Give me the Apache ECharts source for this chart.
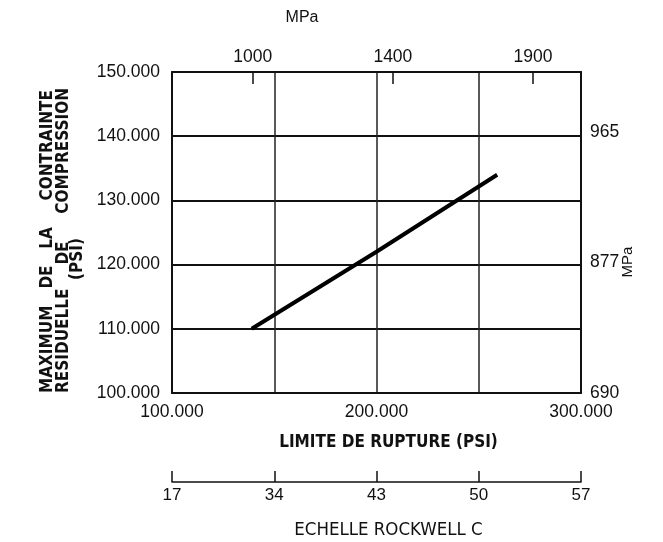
<!DOCTYPE html>
<html>
<head>
<meta charset="utf-8">
<script src="https://cdn.jsdelivr.net/npm/echarts@6/dist/echarts.min.js"></script>
<style>
html,body{margin:0;padding:0;background:#fff;}
#chart{width:663px;height:542px;}
</style>
</head>
<body>
<div id="chart"></div>
<script>
// ---- data ----
var psiMin = 100000, psiMax = 300000;
var yPsiMin = 100000, yPsiMax = 150000;
var lineData = [[139000, 110000], [200000, 122000], [259000, 134000]];
var bottomLabelValues = [100000, 200000, 300000];
var topMpaPsi = [139500, 208000, 276500];
var topMpaLabels = ['1000', '1400', '1900'];
var rightMpaPsi = [100000, 120400, 140600];
var rightMpaLabels = ['690', '877', '965'];
var rockwellPsi = [100000, 150000, 200000, 250000, 300000];
var rockwellLabels = ['17', '34', '43', '50', '57'];

var numFont = 'Liberation Sans, Arial, sans-serif';
var condFont = '"DejaVu Sans Condensed", "Liberation Sans Narrow", sans-serif';

function psiFmt(v) { return (v / 1000) + '.000'; }

var chart = echarts.init(document.getElementById('chart'), null, {renderer: 'canvas'});

var titleWords = [
  {t: 'MAXIMUM', x: 48, y: 393, a: 'left'},
  {t: 'DE', x: 48, y: 277, a: 'center'},
  {t: 'LA', x: 48, y: 238, a: 'center'},
  {t: 'CONTRAINTE', x: 48, y: 90, a: 'right'},
  {t: 'RESIDUELLE', x: 64, y: 393, a: 'left'},
  {t: 'DE', x: 64, y: 253, a: 'center'},
  {t: 'COMPRESSION', x: 64, y: 88, a: 'right'},
  {t: '(PSI)', x: 78, y: 259, a: 'center'}
];
var graphics = titleWords.map(function (w) {
  return {
    type: 'text', x: w.x, y: w.y, rotation: Math.PI / 2,
    style: {text: w.t, fill: '#111', font: 'bold 17px ' + condFont, align: w.a, verticalAlign: 'middle'}
  };
});
graphics.push({type: 'text', x: 302, y: 18, style: {text: 'MPa', fill: '#111', font: '16px ' + numFont, align: 'center', verticalAlign: 'middle'}});
graphics.push({type: 'text', x: 628, y: 262, rotation: Math.PI / 2, style: {text: 'MPa', fill: '#111', font: '15px ' + numFont, align: 'center', verticalAlign: 'middle'}});

var option = {
  backgroundColor: '#fff',
  animation: false,
  grid: {left: 172, right: 82, top: 72, bottom: 149, containLabel: false, outerBoundsMode: 'none'},
  xAxis: [
    {
      type: 'value', position: 'bottom', min: psiMin, max: psiMax, interval: 50000,
      axisLine: {show: true, onZero: false, lineStyle: {color: '#111', width: 2}},
      axisTick: {show: false},
      splitLine: {show: true, lineStyle: {color: '#222', width: 1.5}},
      axisLabel: {
        margin: 10, color: '#111', fontFamily: numFont, fontSize: 17.5,
        formatter: function (v) { return bottomLabelValues.indexOf(v) >= 0 ? psiFmt(v) : ''; }
      },
      name: 'LIMITE DE RUPTURE (PSI)', nameLocation: 'middle', nameGap: 41,
      nameTextStyle: {color: '#111', fontFamily: condFont, fontWeight: 'bold', fontSize: 17, padding: [0, 0, 0, 24]}
    },
    {
      type: 'value', position: 'top', min: psiMin, max: psiMax,
      axisLine: {show: true, onZero: false, lineStyle: {color: '#111', width: 2}},
      axisTick: {show: true, inside: true, length: 12, customValues: topMpaPsi, lineStyle: {color: '#111', width: 1.5}},
      splitLine: {show: false},
      axisLabel: {
        margin: 6, color: '#111', fontFamily: numFont, fontSize: 17.5, customValues: topMpaPsi,
        formatter: function (v) { var i = topMpaPsi.indexOf(v); return i >= 0 ? topMpaLabels[i] : ''; }
      }
    },
    {
      type: 'value', position: 'bottom', offset: 89, min: psiMin, max: psiMax, interval: 50000,
      axisLine: {show: true, onZero: false, lineStyle: {color: '#111', width: 1.5}},
      axisTick: {show: true, inside: true, length: 11, lineStyle: {color: '#111', width: 1.5}},
      splitLine: {show: false},
      axisLabel: {
        margin: 5, color: '#111', fontFamily: numFont, fontSize: 17,
        formatter: function (v) { var i = rockwellPsi.indexOf(v); return i >= 0 ? rockwellLabels[i] : ''; }
      },
      name: 'ECHELLE ROCKWELL C', nameLocation: 'middle', nameGap: 39,
      nameTextStyle: {color: '#111', fontFamily: condFont, fontSize: 18.5, padding: [0, 0, 0, 24]}
    }
  ],
  yAxis: [
    {
      type: 'value', position: 'left', min: yPsiMin, max: yPsiMax, interval: 10000,
      axisLine: {show: true, onZero: false, lineStyle: {color: '#111', width: 2}},
      axisTick: {show: false},
      splitLine: {show: true, lineStyle: {color: '#111', width: 2}},
      axisLabel: {margin: 12, color: '#111', fontFamily: numFont, fontSize: 17.5, formatter: psiFmt}
    },
    {
      type: 'value', position: 'right', min: yPsiMin, max: yPsiMax,
      axisLine: {show: true, onZero: false, lineStyle: {color: '#111', width: 2}},
      axisTick: {show: false, customValues: rightMpaPsi},
      splitLine: {show: false},
      axisLabel: {
        margin: 9, color: '#111', fontFamily: numFont, fontSize: 17.5, customValues: rightMpaPsi,
        formatter: function (v) { var i = rightMpaPsi.indexOf(v); return i >= 0 ? rightMpaLabels[i] : ''; }
      }
    }
  ],
  graphic: graphics,
  series: [{
    type: 'line', xAxisIndex: 0, yAxisIndex: 0, data: lineData,
    showSymbol: false, symbol: 'none',
    lineStyle: {color: '#000', width: 4, cap: 'butt'}
  }]
};
chart.setOption(option);
</script>
</body>
</html>
